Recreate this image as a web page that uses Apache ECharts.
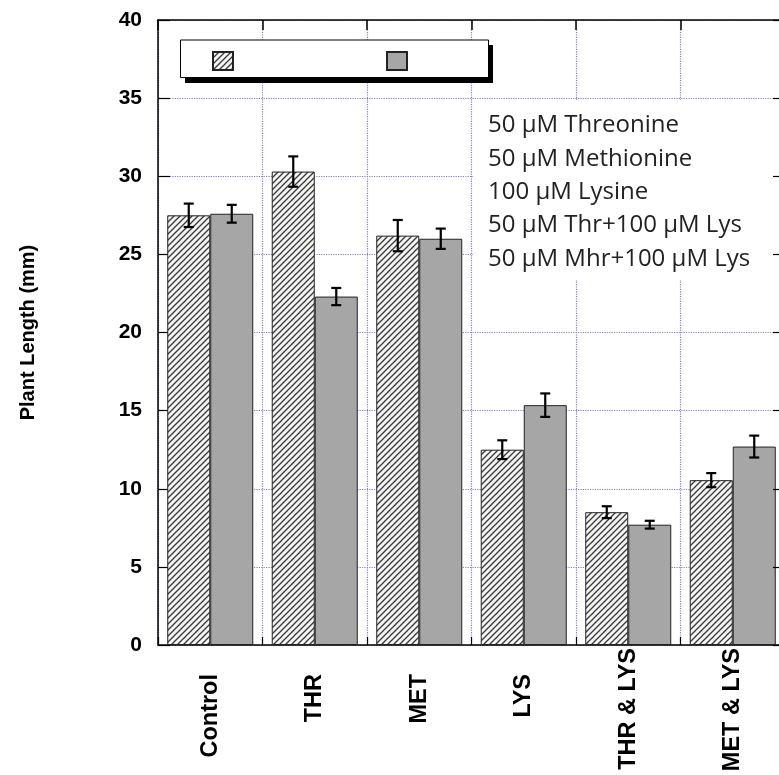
<!DOCTYPE html>
<html>
<head>
<meta charset="utf-8">
<script src="https://cdn.jsdelivr.net/npm/echarts@6/dist/echarts.min.js"></script>
<style>
html,body{margin:0;padding:0;background:#fff;overflow:hidden;width:779px;height:775px;}
#chart{width:786px;height:775px;}
</style>
</head>
<body>
<div id="chart"></div>
<script>
// ---- data ----
const categories = ['Control', 'THR', 'MET', 'LYS', 'THR & LYS', 'MET & LYS'];
const hatchedValues = [27.5, 30.3, 26.2, 12.5, 8.5, 10.55];
const hatchedErrors = [0.75, 0.97, 1.0, 0.6, 0.38, 0.45];
const grayValues = [27.6, 22.3, 26.0, 15.35, 7.7, 12.7];
const grayErrors = [0.57, 0.55, 0.65, 0.75, 0.25, 0.7];
const yMin = 0, yMax = 40, yInterval = 5;
const yAxisTitle = 'Plant Length (mm)';
const annotationLines = [
  '50 \u00b5M Threonine',
  '50 \u00b5M Methionine',
  '100 \u00b5M Lysine',
  '50 \u00b5M Thr+100 \u00b5M Lys',
  '50 \u00b5M Mhr+100 \u00b5M Lys'
];
const seriesNames = ['Hatched', 'Gray'];

// ---- styles ----
const FONT = '"Liberation Sans", Arial, Helvetica, sans-serif';
const GRID_COLOR = '#8080cc';
const CAT_GAP = 0.177;

function makeHatch() {
  const s = 6;
  const c = document.createElement('canvas');
  c.width = s; c.height = s;
  const g = c.getContext('2d');
  g.fillStyle = '#f4f4f4';
  g.fillRect(0, 0, s, s);
  g.strokeStyle = '#383838';
  g.lineWidth = 1.3;
  g.beginPath();
  g.moveTo(-1, s + 1); g.lineTo(s + 1, -1);
  g.moveTo(-1, 1); g.lineTo(1, -1);
  g.moveTo(s - 1, s + 1); g.lineTo(s + 1, s - 1);
  g.stroke();
  return c;
}
const hatch = makeHatch();

function errData(vals, errs) {
  return vals.map((v, i) => [i, v, errs[i]]);
}
function errRender(side) {
  return function (params, api) {
    const i = api.value(0), v = api.value(1), e = api.value(2);
    const band = api.size([1, 0])[0];
    const off = side * band * (1 - CAT_GAP) / 4;
    const top = api.coord([i, v + e]);
    const bot = api.coord([i, v - e]);
    const x = top[0] + off;
    const cap = 5;
    const st = { stroke: '#000', lineWidth: 2.2 };
    return {
      type: 'group',
      children: [
        { type: 'line', shape: { x1: x, y1: top[1], x2: x, y2: bot[1] }, style: st },
        { type: 'line', shape: { x1: x - cap, y1: top[1], x2: x + cap, y2: top[1] }, style: st },
        { type: 'line', shape: { x1: x - cap, y1: bot[1], x2: x + cap, y2: bot[1] }, style: st }
      ]
    };
  };
}

const chart = echarts.init(document.getElementById('chart'), null, { renderer: 'canvas' });

const option = {
  animation: false,
  backgroundColor: '#fff',
  grid: { left: 158, top: 20, right: 1, bottom: 130, containLabel: false, outerBoundsMode: 'none' },
  legend: {
    left: 212, top: 51, padding: 0,
    itemWidth: 20, itemHeight: 18, itemGap: 152,
    icon: 'rect',
    formatter: function () { return ''; },
    data: seriesNames,
    z: 10,
    selectedMode: false
  },
  xAxis: [
    {
      type: 'category', data: categories, position: 'bottom',
      axisLine: { onZero: false, lineStyle: { color: '#000', width: 1.5 } },
      axisTick: { show: true, inside: true, length: 8, lineStyle: { color: '#000', width: 1.2 } },
      splitLine: { show: true, lineStyle: { color: GRID_COLOR, type: 'dotted', width: 1.2 } },
      axisLabel: {
        rotate: 90, margin: 3, interval: 0,
        formatter: function (v) { return v.length > 7 ? '{l|' + v + '}' : '{s|' + v + '}'; },
        rich: {
          s: { fontFamily: FONT, fontWeight: 'bold', fontSize: 23.5, color: '#000', padding: [0, 26, 0, 0] },
          l: { fontFamily: FONT, fontWeight: 'bold', fontSize: 23.5, color: '#000' }
        }
      }
    },
    {
      type: 'category', data: categories, position: 'top',
      axisLine: { onZero: false, lineStyle: { color: '#000', width: 1.5 } },
      axisTick: { show: true, inside: true, length: 10, lineStyle: { color: '#000', width: 1.5 } },
      axisLabel: { show: false },
      splitLine: { show: false }
    }
  ],
  yAxis: [
    {
      type: 'value', min: yMin, max: yMax, interval: yInterval, position: 'left',
      name: yAxisTitle, nameLocation: 'middle', nameGap: 120, nameRotate: 90,
      nameTextStyle: { fontFamily: FONT, fontWeight: 'bold', fontSize: 20, color: '#000' },
      axisLine: { show: true, onZero: false, lineStyle: { color: '#000', width: 1.5 } },
      axisTick: { show: true, inside: true, length: 12, lineStyle: { color: '#000', width: 1.2 } },
      axisLabel: { margin: 16, fontFamily: FONT, fontWeight: 'bold', fontSize: 21, color: '#000' },
      splitLine: { show: true, lineStyle: { color: GRID_COLOR, type: 'dotted', width: 1.2 } }
    },
    {
      type: 'value', min: yMin, max: yMax, interval: yInterval, position: 'right',
      z: 5,
      axisLine: { show: true, onZero: false, lineStyle: { color: '#000', width: 1.5 } },
      axisTick: { show: true, inside: true, length: 12, lineStyle: { color: '#000', width: 1.2 } },
      axisLabel: { show: false },
      splitLine: { show: false }
    }
  ],
  graphic: [
    { type: 'rect', z: 1, shape: { x: 473, y: 100, width: 320, height: 180 }, style: { fill: '#fff' } },
    {
      type: 'text', z: 6, left: 488, top: 109,
      style: {
        text: annotationLines.join('\n'),
        fontFamily: '"Open Sans", sans-serif', fontSize: 24, lineHeight: 33.3, fill: '#222'
      }
    },
    { type: 'rect', z: 6, shape: { x: 185, y: 45, width: 308, height: 38 }, style: { fill: '#000' } },
    { type: 'rect', z: 6, shape: { x: 180.5, y: 40, width: 308, height: 37.5 }, style: { fill: '#fff', stroke: '#000', lineWidth: 1 } }
  ],
  series: [
    {
      name: seriesNames[0], type: 'bar', data: hatchedValues,
      barGap: '0%', barCategoryGap: (CAT_GAP * 100) + '%',
      itemStyle: { color: { image: hatch, repeat: 'repeat' }, borderColor: '#222', borderWidth: 1 }
    },
    {
      name: seriesNames[1], type: 'bar', data: grayValues,
      barGap: '0%', barCategoryGap: (CAT_GAP * 100) + '%',
      itemStyle: { color: '#a6a6a6', borderColor: '#222', borderWidth: 1 }
    },
    {
      type: 'custom', renderItem: errRender(-1), data: errData(hatchedValues, hatchedErrors),
      encode: { x: 0, y: 1 }, z: 4, silent: true
    },
    {
      type: 'custom', renderItem: errRender(1), data: errData(grayValues, grayErrors),
      encode: { x: 0, y: 1 }, z: 4, silent: true
    }
  ]
};
chart.setOption(option);
</script>
</body>
</html>
